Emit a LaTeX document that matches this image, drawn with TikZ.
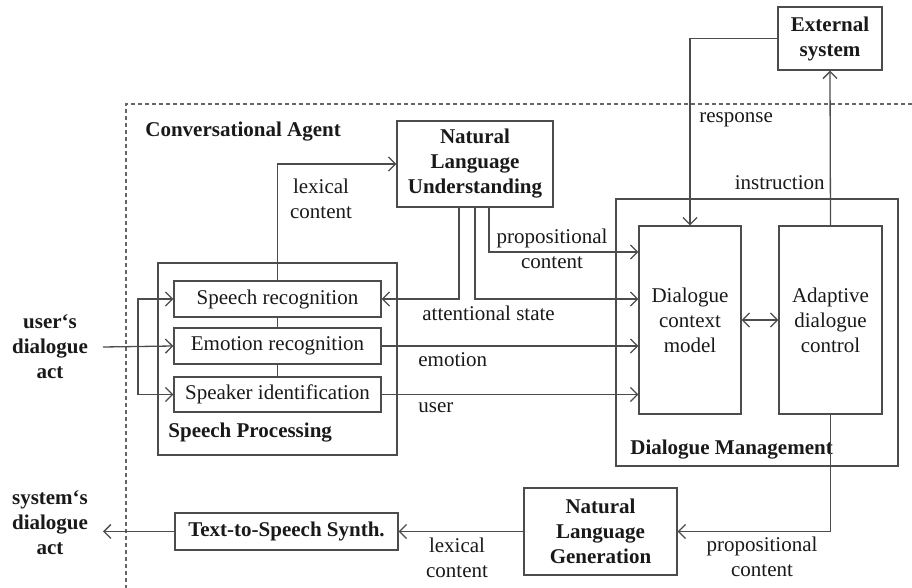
\documentclass[tikz,border=0pt]{standalone}
\usepackage{fontspec}
\setmainfont{Liberation Serif}
\usetikzlibrary{arrows.meta}
\begin{document}
\fontsize{10.5pt}{12.5pt}\selectfont
\begin{tikzpicture}[x=0.5pt,y=-0.5pt,
  line/.style={draw=black!70, line width=0.65pt},
  arr/.style={line, -{Straight Barb[length=3.5pt,width=7pt]}},
  darr/.style={line, {Straight Barb[length=3.5pt,width=7pt]}-{Straight Barb[length=3.5pt,width=7pt]}},
  box/.style={draw=black!70, line width=0.65pt, inner sep=0pt, align=center, text=black!90},
  lbl/.style={inner sep=0pt, align=center, text=black!90},
  bld/.style={font=\bfseries}
]
\useasboundingbox (0,0) rectangle (912,588);
% dashed agent frame
\draw[draw=black!60, line width=0.6pt, dash pattern=on 2pt off 1.5pt] (912,104) -- (126,104) -- (126,588);

% boxes
\node[box, bld, minimum width=78pt, minimum height=43pt] (NLU) at (475,164) {Natural\\Language\\Understanding};
\node[box, bld, minimum width=52pt, minimum height=31.5pt] (EXT) at (830,38.5) {External\\system};
\node[box, minimum width=141pt, minimum height=133.5pt] (DM) at (757,332.5) {};
\node[box, minimum width=51pt, minimum height=94pt] (DCM) at (690,320) {Dialogue\\context\\model};
\node[box, minimum width=51.5pt, minimum height=94pt] (ADC) at (830.5,320) {Adaptive\\dialogue\\control};
\node[box, minimum width=119.5pt, minimum height=96pt] (SP) at (277.5,359) {};
\node[box, minimum width=103.5pt, minimum height=18pt] (SR) at (277.5,299) {Speech recognition};
\node[box, minimum width=103.5pt, minimum height=18pt] (ER) at (277.5,346) {Emotion recognition};
\node[box, minimum width=103.5pt, minimum height=17.5pt] (SI) at (277.5,394.5) {Speaker identification};
\node[box, bld, minimum width=76.5pt, minimum height=43.5pt] (NLG) at (600.5,531.5) {Natural\\Language\\Generation};
\node[box, bld, minimum width=111.5pt, minimum height=18.5pt] (TTS) at (286.5,531.5) {Text-to-Speech Synth.};

% labels
\node[lbl, bld, anchor=west] (CA) at (145,132) {Conversational Agent};
\node[lbl, bld] (UDA) at (50,347) {user‘s\\dialogue\\act};
\node[lbl, bld] (SDA) at (50,523) {system‘s\\dialogue\\act};
\node[lbl] (lex1) at (321,199) {lexical\\content};
\node[lbl] (prop1) at (552,249) {propositional\\content};
\node[lbl, anchor=west] (att) at (422,313) {attentional state};
\node[lbl, anchor=west] (emo) at (418,360) {emotion};
\node[lbl, anchor=west] (usr) at (418,408) {user};
\node[lbl, anchor=west] (resp) at (699,120) {response};
\node[lbl, anchor=east] (instr) at (825,183) {instruction};
\node[lbl, bld, anchor=west] (SPl) at (168,433) {Speech Processing};
\node[lbl, bld, anchor=west] (DMl) at (630,450) {Dialogue Management};
\node[lbl] (prop2) at (762,557) {propositional\\content};
\node[lbl] (lex2) at (457,558) {lexical\\content};

% free ends
\coordinate (uin) at (103,347);
\coordinate (br) at (138,347);
\coordinate (sout) at (103,531.5);

% connectors
\draw[arr] (uin) -- (ER.west);
\draw[arr] (br) |- (SR.west);
\draw[arr] (br) |- (SI.west);
\draw[line] (SR.south) -- (ER.north);
\draw[line] (ER.south) -- (SI.north);
\draw[arr] (SR.north) |- (NLU.west);
\draw[arr] ([xshift=-8pt]NLU.south) |- (SR.east);
\draw[arr] (NLU.south) |- (DCM.west |- SR.east);
\draw[arr] ([xshift=7pt]NLU.south) |- (DCM.west |- 0,252);
\draw[arr] (ER.east) -- (DCM.west |- ER.east);
\draw[arr] (SI.east) -- (DCM.west |- SI.east);
\draw[darr] (DCM.east) -- (ADC.west);
\draw[arr] (EXT.west) -| (DCM.north);
\draw[arr] (ADC.north) -- (EXT.south);
\draw[arr] (ADC.south) |- (NLG.east);
\draw[arr] (NLG.west) -- (TTS.east);
\draw[arr] (TTS.west) -- (sout);
\end{tikzpicture}
\end{document}
